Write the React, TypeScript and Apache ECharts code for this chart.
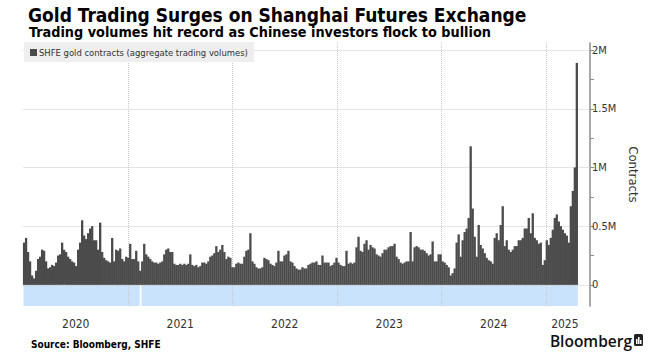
import React, { useEffect, useRef } from "react";
import * as echarts from "echarts";

const TITLE = "Gold Trading Surges on Shanghai Futures Exchange";
const SUBTITLE = "Trading volumes hit record as Chinese investors flock to bullion";
const SOURCE = "Source: Bloomberg, SHFE";
const BRAND = "Bloomberg";
const SERIES_NAME = "SHFE gold contracts (aggregate trading volumes)";
const Y_AXIS_NAME = "Contracts";

// Weekly SHFE gold volumes (thousand contracts), week 1 = first week of Jan 2020
const vol2020 = [
  360, 400, 280, 200, 80, 55, 120, 220, 240, 300, 290, 200, 140, 150, 170, 160, 190, 250, 260, 360,
  300, 280, 240, 220, 200, 190, 160, 300, 360, 550, 420, 390, 440, 480, 500, 380, 380, 300, 530, 280,
  230, 210, 200, 190, 400, 200, 300, 290, 310, 220, 200, 240,
];
const vol2021 = [
  230, 350, 220, 220, 290, 200, 120, 200, 350, 260, 240, 220, 200, 190, 190, 180, 190, 200, 260, 300,
  310, 280, 280, 180, 170, 170, 180, 170, 180, 170, 180, 260, 170, 160, 170, 150, 160, 190, 190, 180,
  200, 240, 250, 270, 330, 280, 300, 340, 280, 220, 240, 230, 150,
];
const vol2022 = [
  150, 180, 190, 180, 180, 240, 290, 300, 440, 200, 180, 150, 140, 140, 150, 230, 220, 210, 180, 170,
  160, 190, 290, 200, 200, 250, 260, 290, 200, 190, 160, 140, 130, 130, 150, 140, 140, 170, 180, 190,
  190, 200, 170, 170, 250, 190, 190, 190, 160, 170, 190, 230,
];
const vol2023 = [
  190, 170, 160, 160, 290, 180, 190, 180, 190, 320, 410, 290, 280, 350, 380, 300, 340, 320, 310, 260,
  250, 240, 270, 300, 300, 320, 330, 330, 350, 240, 220, 190, 180, 190, 200, 200, 450, 200, 320, 330,
  320, 300, 300, 290, 270, 250, 260, 370, 200, 200, 260, 260,
];
const vol2024 = [
  200, 190, 170, 150, 80, 100, 140, 360, 430, 240, 380, 450, 480, 570, 1180, 650, 410, 240, 510, 340,
  310, 270, 230, 210, 200, 180, 400, 440, 380, 510, 670, 330, 380, 300, 280, 300, 330, 330, 380, 380,
  400, 480, 480, 570, 440, 610, 400, 380, 350, 360, 170, 210,
];
const vol2025 = [380, 340, 400, 470, 570, 600, 540, 500, 470, 440, 420, 360, 670, 800, 1000, 1890];

const weeklyVolumes = [...vol2020, ...vol2021, ...vol2022, ...vol2023, ...vol2024, ...vol2025];

const yearLabels = [2020, 2021, 2022, 2023, 2024, 2025];
const yearLines = [2021, 2022, 2023, 2024, 2025];
const yLabelValues = [0, 500000, 1000000, 1500000, 2000000];
const yTickValues = [0, 250000, 500000, 750000, 1000000, 1250000, 1500000, 1750000, 2000000];
const yGridValues = [0, 500000, 1000000, 1500000, 2000000];
// trading halt (Lunar New Year 2021), day-of-year start/end
const haltStartDay = 41;
const haltEndDay = 47;

const X_MIN = 2020;
const X_MAX = 2025.421;
const Y_MIN = -180000;
const Y_MAX = 2060000;

const FONT = "'DejaVu Sans Condensed', 'DejaVu Sans', sans-serif";

function weekToYear(i: number) {
  return 2020 + (i * 7 + 2) / 365.25;
}

export default function App() {
  const ref = useRef<HTMLDivElement>(null);

  useEffect(() => {
    if (!ref.current) return;
    const chart = echarts.init(ref.current, undefined, { renderer: "svg" });

    const data = weeklyVolumes.map((v, i) => [weekToYear(i), v * 1000]);
    const lastX = weekToYear(weeklyVolumes.length - 1) + 3.5 / 365.25;
    const haltStart = 2021 + haltStartDay / 365;
    const haltEnd = 2021 + haltEndDay / 365;

    const labelPositions = yearLabels.map((y) => (Math.max(y, X_MIN) + Math.min(y + 1, X_MAX)) / 2 - (y === 2025 ? 0.03 : 0));

    chart.setOption({
      animation: false,
      backgroundColor: "#ffffff",
      textStyle: { fontFamily: FONT },
      title: [
        {
          text: TITLE,
          left: 23,
          top: 0,
          textStyle: { fontSize: 19, fontWeight: "bold", color: "#000", fontFamily: FONT },
        },
        {
          text: SUBTITLE,
          left: 24,
          top: 20,
          textStyle: { fontSize: 14.3, fontWeight: "bold", color: "#000", fontFamily: FONT },
        },
        {
          text: SOURCE,
          left: 26,
          top: 334,
          textStyle: { fontSize: 10, fontWeight: "bold", color: "#000", fontFamily: FONT },
        },
      ],
      legend: {
        data: [SERIES_NAME],
        left: 24,
        top: 42,
        backgroundColor: "#eeeeee",
        padding: [6, 6, 5, 6],
        itemWidth: 7,
        itemHeight: 7,
        icon: "rect",
        selectedMode: false,
        textStyle: { fontSize: 9.4, color: "#333", fontFamily: FONT, padding: [0, 0, 0, -3] },
      },
      grid: { left: 23.5, right: 63, top: 43, bottom: 53 },
      xAxis: {
        type: "value",
        min: X_MIN,
        max: X_MAX,
        axisLine: { show: false },
        axisTick: { show: false },
        splitLine: { show: false },
        axisLabel: {
          customValues: labelPositions,
          formatter: (v: number) => String(Math.floor(v + 1e-6)),
          color: "#333",
          fontSize: 12,
          margin: 12,
          fontFamily: FONT,
        },
      },
      yAxis: {
        type: "value",
        position: "right",
        min: Y_MIN,
        max: Y_MAX,
        name: Y_AXIS_NAME,
        nameLocation: "middle",
        nameRotate: -90,
        nameGap: 35,
        nameTextStyle: { fontSize: 13, color: "#333", fontFamily: FONT },
        axisLine: { show: true, lineStyle: { color: "#8c8c8c", width: 1.5 } },
        axisTick: { show: true, length: 4, customValues: yTickValues, lineStyle: { color: "#8c8c8c" } },
        splitLine: { show: false },
        axisLabel: {
          customValues: yLabelValues,
          formatter: (v: number) => (v === 0 ? "0" : v / 1e6 + "M"),
          color: "#333",
          fontSize: 11,
          margin: 2,
          fontFamily: FONT,
        },
      },
      series: [
        {
          name: SERIES_NAME,
          type: "bar",
          data,
          barWidth: 2.3,
          z: 2,
          itemStyle: { color: "#4b4b4b" },
          emphasis: { disabled: true },
          markLine: {
            z: 1,
            silent: true,
            symbol: "none",
            label: { show: false },
            lineStyle: { type: "dotted", color: "#c8c8c8", width: 1 },
            data: [
              ...yearLines.map((x) => ({ xAxis: x })),
              ...yGridValues.map((y) => ({ yAxis: y })),
            ],
          },
          markArea: {
            z: 0,
            silent: true,
            itemStyle: { color: "#cae3fc" },
            data: [
              [{ xAxis: X_MIN, yAxis: Y_MIN }, { xAxis: haltStart, yAxis: 0 }],
              [{ xAxis: haltEnd, yAxis: Y_MIN }, { xAxis: lastX, yAxis: 0 }],
            ],
          },
        },
      ],
      graphic: [
        {
          type: "text",
          right: 21,
          top: 333,
          style: { text: BRAND, fontSize: 15.5, fontWeight: 600, fill: "#111", fontFamily: "'Open Sans', sans-serif" },
        },
        {
          type: "group",
          right: 10,
          top: 334,
          children: [
            { type: "rect", shape: { x: 0, y: 0, width: 9, height: 12, r: 1.5 }, style: { fill: "#222" } },
            { type: "rect", shape: { x: 2, y: 5, width: 1.5, height: 5 }, style: { fill: "#fff" } },
            { type: "rect", shape: { x: 4, y: 3, width: 1.5, height: 7 }, style: { fill: "#fff" } },
            { type: "rect", shape: { x: 6, y: 6, width: 1.5, height: 4 }, style: { fill: "#fff" } },
          ],
        },
      ],
    });

    return () => chart.dispose();
  }, []);

  return <div ref={ref} style={{ width: 653, height: 359, position: "fixed", left: 0, top: 0 }} />;
}
